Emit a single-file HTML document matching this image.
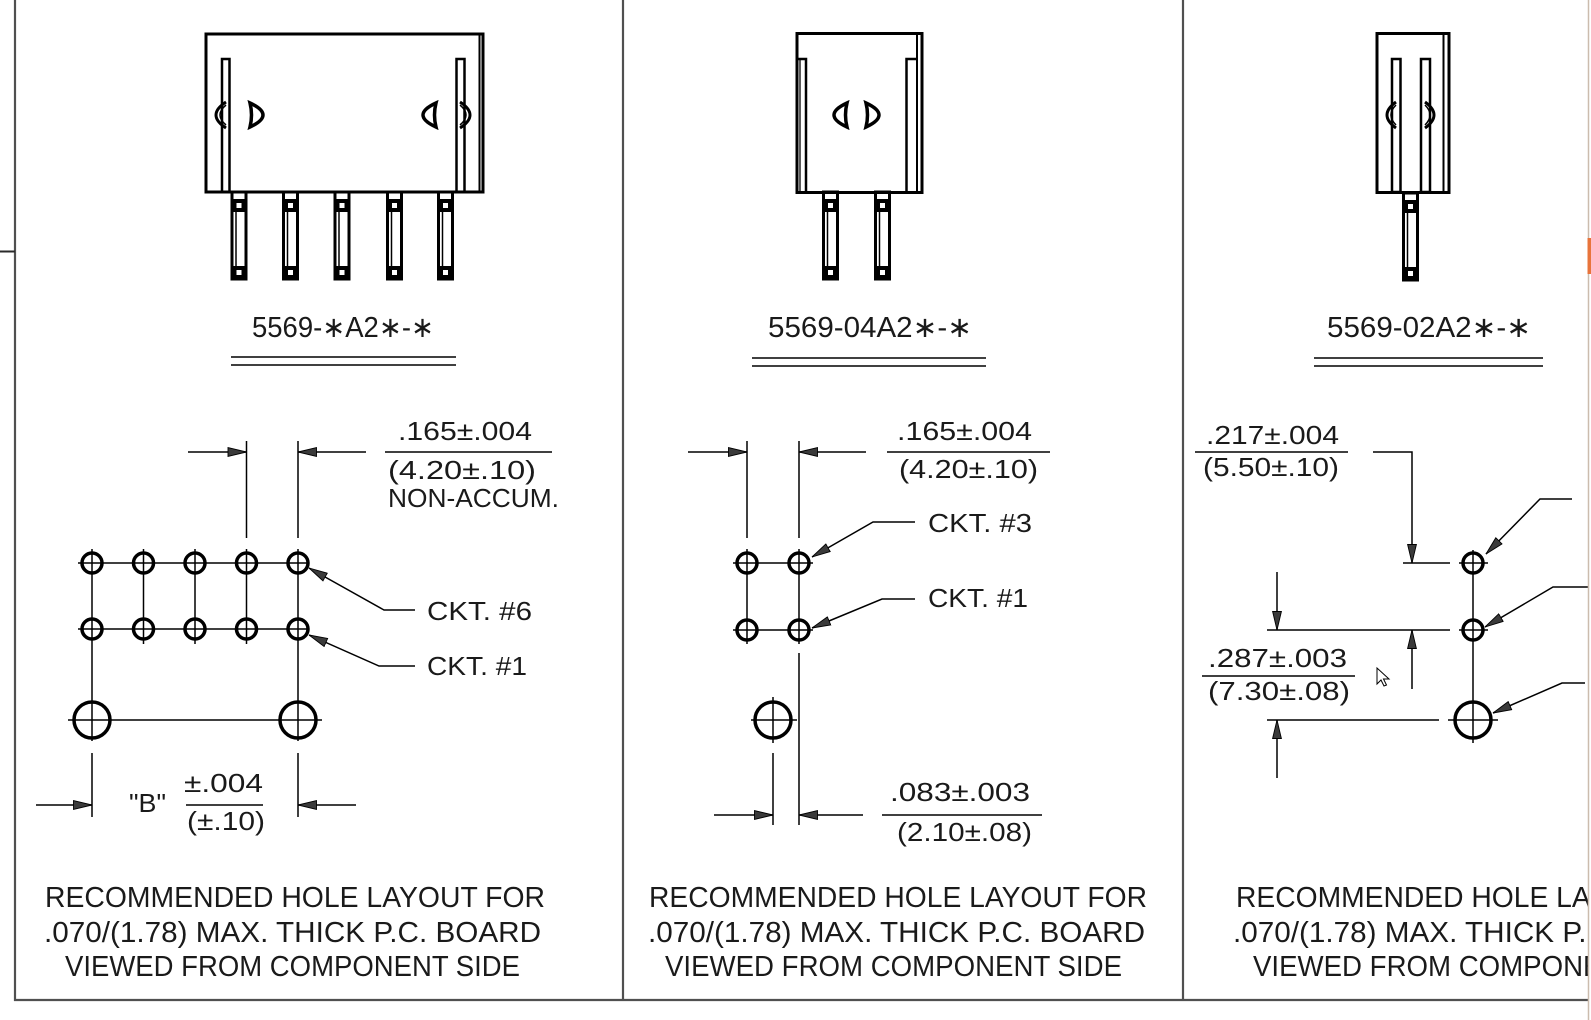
<!DOCTYPE html>
<html><head><meta charset="utf-8"><style>
html,body{margin:0;padding:0;background:#fff;width:1591px;height:1020px;overflow:hidden}
svg{display:block}
text{font-family:"Liberation Sans","DejaVu Sans",sans-serif;fill:#1a1a1a}
</style></head><body>
<svg width="1591" height="1020" viewBox="0 0 1591 1020" xmlns="http://www.w3.org/2000/svg">
<defs>
<marker id="ah" viewBox="0 0 19 10" refX="19" refY="5" markerWidth="19" markerHeight="10" orient="auto" markerUnits="userSpaceOnUse"><path d="M0.5,0.6 L19,5 L0.5,9.4 Z" fill="#3a3a3a" stroke="#000" stroke-width="0.9"/></marker>
<g id="pin">
<rect x="-7" y="192" width="14" height="87" fill="none" stroke="#000" stroke-width="3"/>
<line x1="-3" y1="212" x2="-3" y2="266" stroke="#000" stroke-width="1.5"/>
<rect x="-8" y="199" width="16" height="13" fill="#000"/>
<rect x="-2.5" y="203" width="5" height="5" fill="#fff"/>
<rect x="-8" y="266" width="16" height="14" fill="#000"/>
<rect x="-2.5" y="270" width="5" height="5" fill="#fff"/>
</g>
</defs>

<!-- frame -->
<g stroke="#505050" stroke-width="2.2" fill="none">
<line x1="15" y1="0" x2="15" y2="1001"/>
<line x1="14" y1="1000" x2="1588" y2="1000"/>
<line x1="623" y1="0" x2="623" y2="1000"/>
<line x1="1183" y1="0" x2="1183" y2="1000"/>
</g>
<line x1="0" y1="251.5" x2="15" y2="251.5" stroke="#2a2a2a" stroke-width="2"/>

<!-- ===== Panel 1 connector ===== -->
<g stroke="#000" stroke-width="3" fill="none">
<rect x="206" y="34" width="277" height="158"/>
<line x1="479.5" y1="34" x2="479.5" y2="192" stroke-width="2"/>
<rect x="222" y="59" width="7.5" height="133" stroke-width="2.5"/>
<rect x="456.5" y="59" width="8" height="133" stroke-width="2.5"/>
<path d="M226,102 Q206,115 226,128"/>
<path d="M226,105 Q214,115 226,125" stroke-width="1.5"/>
<path d="M460,102 Q480,115 460,128"/>
<path d="M460,105 Q472,115 460,125" stroke-width="1.5"/>
<path d="M250,103 Q276,115 250,127 Q253,115 250,103 Z" stroke-width="3.5"/>
<path d="M436,103 Q410,115 436,127 Q433,115 436,103 Z" stroke-width="3.5"/>
</g>
<use href="#pin" x="239"/>
<use href="#pin" x="290.5"/>
<use href="#pin" x="342"/>
<use href="#pin" x="394.5"/>
<use href="#pin" x="445.5"/>
<text x="252" y="337" font-size="29" textLength="182" lengthAdjust="spacingAndGlyphs">5569-∗A2∗-∗</text>
<g stroke="#000" stroke-width="1.5">
<line x1="231" y1="357" x2="456" y2="357"/>
<line x1="231" y1="365" x2="456" y2="365"/>
</g>

<!-- ===== Panel 1 hole layout ===== -->
<g stroke="#000" stroke-width="1.5" fill="none">
<line x1="78" y1="563" x2="309" y2="563"/>
<line x1="78" y1="629" x2="309" y2="629"/>
<line x1="68" y1="720" x2="322" y2="720"/>
<line x1="92" y1="549" x2="92" y2="741"/>
<line x1="143.5" y1="549" x2="143.5" y2="644"/>
<line x1="195" y1="549" x2="195" y2="644"/>
<line x1="246.5" y1="441" x2="246.5" y2="538"/>
<line x1="246.5" y1="549" x2="246.5" y2="644"/>
<line x1="298" y1="441" x2="298" y2="538"/>
<line x1="298" y1="549" x2="298" y2="741"/>
<line x1="92" y1="753" x2="92" y2="817"/>
<line x1="298" y1="753" x2="298" y2="817"/>
<line x1="188" y1="452" x2="246.5" y2="452" marker-end="url(#ah)"/>
<line x1="366" y1="452" x2="298" y2="452" marker-end="url(#ah)"/>
<line x1="36" y1="805" x2="92" y2="805" marker-end="url(#ah)"/>
<line x1="356" y1="805" x2="298" y2="805" marker-end="url(#ah)"/>
<line x1="385" y1="452" x2="552" y2="452"/>
<line x1="186" y1="805" x2="263" y2="805"/>
<polyline points="415,610 384,610 309,568" marker-end="url(#ah)"/>
<polyline points="415,666 379,666 309,635" marker-end="url(#ah)"/>
</g>
<g stroke="#000" stroke-width="3.5" fill="none">
<circle cx="92" cy="563" r="10"/><circle cx="143.5" cy="563" r="10"/><circle cx="195" cy="563" r="10"/><circle cx="246.5" cy="563" r="10"/><circle cx="298" cy="563" r="10"/>
<circle cx="92" cy="629" r="10"/><circle cx="143.5" cy="629" r="10"/><circle cx="195" cy="629" r="10"/><circle cx="246.5" cy="629" r="10"/><circle cx="298" cy="629" r="10"/>
<circle cx="92" cy="720" r="18"/><circle cx="298" cy="720" r="18"/>
</g>
<text x="398" y="440" font-size="26" textLength="134" lengthAdjust="spacingAndGlyphs">.165±.004</text>
<text x="388" y="479" font-size="26" textLength="148" lengthAdjust="spacingAndGlyphs">(4.20±.10)</text>
<text x="388" y="507" font-size="26" textLength="171" lengthAdjust="spacingAndGlyphs">NON-ACCUM.</text>
<text x="427" y="620" font-size="26" textLength="105" lengthAdjust="spacingAndGlyphs">CKT. #6</text>
<text x="427" y="675" font-size="26" textLength="100" lengthAdjust="spacingAndGlyphs">CKT. #1</text>
<text x="129" y="812" font-size="26" textLength="37" lengthAdjust="spacingAndGlyphs">"B"</text>
<text x="184" y="792" font-size="26" textLength="79" lengthAdjust="spacingAndGlyphs">±.004</text>
<text x="187" y="830" font-size="26" textLength="78" lengthAdjust="spacingAndGlyphs">(±.10)</text>

<text x="45" y="907" font-size="29" textLength="500" lengthAdjust="spacingAndGlyphs">RECOMMENDED HOLE LAYOUT FOR</text>
<text x="44" y="942" font-size="29" textLength="497" lengthAdjust="spacingAndGlyphs">.070/(1.78) MAX. THICK P.C. BOARD</text>
<text x="65" y="976" font-size="29" textLength="455" lengthAdjust="spacingAndGlyphs">VIEWED FROM COMPONENT SIDE</text>

<!-- ===== Panel 2 connector ===== -->
<g stroke="#000" stroke-width="3" fill="none">
<rect x="797" y="33.5" width="125" height="159"/>
<line x1="917" y1="33.5" x2="917" y2="192.5" stroke-width="2"/>
<polyline points="797,59 806,59 806,192" stroke-width="2.5"/>
<line x1="800" y1="59" x2="800" y2="192" stroke-width="1.3"/>
<polyline points="917,59 906.5,59 906.5,192" stroke-width="2.5"/>
<path d="M847,103 Q821,115 847,127 Q844,115 847,103 Z" stroke-width="3.5"/>
<path d="M866,103 Q892,115 866,127 Q869,115 866,103 Z" stroke-width="3.5"/>
</g>
<use href="#pin" x="830.5"/>
<use href="#pin" x="882.5"/>
<text x="768" y="337" font-size="29" textLength="204" lengthAdjust="spacingAndGlyphs">5569-04A2∗-∗</text>
<g stroke="#000" stroke-width="1.5">
<line x1="752" y1="358" x2="986" y2="358"/>
<line x1="752" y1="366" x2="986" y2="366"/>
</g>

<!-- ===== Panel 2 hole layout ===== -->
<g stroke="#000" stroke-width="1.5" fill="none">
<line x1="747" y1="441" x2="747" y2="538"/>
<line x1="747" y1="549" x2="747" y2="644"/>
<line x1="799" y1="441" x2="799" y2="538"/>
<line x1="799" y1="549" x2="799" y2="644"/>
<line x1="799" y1="653" x2="799" y2="825"/>
<line x1="733" y1="563" x2="813" y2="563"/>
<line x1="733" y1="630" x2="813" y2="630"/>
<line x1="773" y1="697" x2="773" y2="743"/>
<line x1="751" y1="720" x2="797" y2="720"/>
<line x1="773" y1="753" x2="773" y2="825"/>
<line x1="688" y1="452" x2="747" y2="452" marker-end="url(#ah)"/>
<line x1="866" y1="452" x2="799" y2="452" marker-end="url(#ah)"/>
<line x1="887" y1="452" x2="1050" y2="452"/>
<polyline points="915,522 873,522 812,557" marker-end="url(#ah)"/>
<polyline points="915,599 882,599 812,628" marker-end="url(#ah)"/>
<line x1="714" y1="815" x2="773" y2="815" marker-end="url(#ah)"/>
<line x1="863" y1="815" x2="799" y2="815" marker-end="url(#ah)"/>
<line x1="882" y1="815" x2="1042" y2="815"/>
</g>
<g stroke="#000" stroke-width="3.5" fill="none">
<circle cx="747" cy="563" r="10"/><circle cx="799" cy="563" r="10"/>
<circle cx="747" cy="630" r="10"/><circle cx="799" cy="630" r="10"/>
<circle cx="773" cy="720" r="18"/>
</g>
<text x="897" y="440" font-size="26" textLength="135" lengthAdjust="spacingAndGlyphs">.165±.004</text>
<text x="899" y="478" font-size="26" textLength="139" lengthAdjust="spacingAndGlyphs">(4.20±.10)</text>
<text x="928" y="532" font-size="26" textLength="104" lengthAdjust="spacingAndGlyphs">CKT. #3</text>
<text x="928" y="607" font-size="26" textLength="100" lengthAdjust="spacingAndGlyphs">CKT. #1</text>
<text x="890" y="801" font-size="26" textLength="140" lengthAdjust="spacingAndGlyphs">.083±.003</text>
<text x="897" y="841" font-size="26" textLength="135" lengthAdjust="spacingAndGlyphs">(2.10±.08)</text>

<text x="649" y="907" font-size="29" textLength="498" lengthAdjust="spacingAndGlyphs">RECOMMENDED HOLE LAYOUT FOR</text>
<text x="648" y="942" font-size="29" textLength="497" lengthAdjust="spacingAndGlyphs">.070/(1.78) MAX. THICK P.C. BOARD</text>
<text x="665" y="976" font-size="29" textLength="457" lengthAdjust="spacingAndGlyphs">VIEWED FROM COMPONENT SIDE</text>

<!-- ===== Panel 3 connector ===== -->
<g stroke="#000" stroke-width="3" fill="none">
<rect x="1377" y="33.5" width="72" height="159"/>
<line x1="1443.5" y1="33.5" x2="1443.5" y2="192.5" stroke-width="2"/>
<rect x="1392" y="59" width="8.5" height="133" stroke-width="2.5"/>
<rect x="1421" y="59" width="9" height="133" stroke-width="2.5"/>
<path d="M1396,102 Q1378,115 1396,128"/>
<path d="M1396,105 Q1386,115 1396,125" stroke-width="1.5"/>
<path d="M1425,102 Q1443,115 1425,128"/>
<path d="M1425,105 Q1435,115 1425,125" stroke-width="1.5"/>
</g>
<use href="#pin" x="1410.5" y="1"/>
<text x="1327" y="337" font-size="29" textLength="204" lengthAdjust="spacingAndGlyphs">5569-02A2∗-∗</text>
<g stroke="#000" stroke-width="1.5">
<line x1="1314" y1="358" x2="1543" y2="358"/>
<line x1="1314" y1="366" x2="1543" y2="366"/>
</g>

<!-- ===== Panel 3 hole layout ===== -->
<g stroke="#000" stroke-width="1.5" fill="none">
<line x1="1473" y1="550" x2="1473" y2="743"/>
<line x1="1459" y1="563" x2="1488" y2="563"/>
<line x1="1459" y1="630" x2="1488" y2="630"/>
<line x1="1448" y1="720" x2="1498" y2="720"/>
<line x1="1195" y1="452" x2="1348" y2="452"/>
<line x1="1202" y1="676" x2="1355" y2="676"/>
<polyline points="1373,452 1412,452 1412,563" marker-end="url(#ah)"/>
<line x1="1403" y1="563" x2="1450" y2="563"/>
<line x1="1267" y1="630" x2="1450" y2="630"/>
<line x1="1267" y1="720" x2="1439" y2="720"/>
<line x1="1277" y1="572" x2="1277" y2="630" marker-end="url(#ah)"/>
<line x1="1277" y1="778" x2="1277" y2="720" marker-end="url(#ah)"/>
<line x1="1412" y1="689" x2="1412" y2="630" marker-end="url(#ah)"/>
<polyline points="1572,499 1540,499 1486,554" marker-end="url(#ah)"/>
<polyline points="1591,587 1553,587 1485,627" marker-end="url(#ah)"/>
<polyline points="1585,683 1562,683 1493,713" marker-end="url(#ah)"/>
</g>
<g stroke="#000" stroke-width="3.5" fill="none">
<circle cx="1473" cy="563" r="10"/>
<circle cx="1473" cy="630" r="10"/>
<circle cx="1473" cy="720" r="18"/>
</g>
<polygon points="1377,668 1377,684 1381,680 1384,686 1386.5,685 1383.5,679 1389,679" fill="#fff" stroke="#000" stroke-width="1"/>
<text x="1206" y="444" font-size="26" textLength="133" lengthAdjust="spacingAndGlyphs">.217±.004</text>
<text x="1203" y="476" font-size="26" textLength="136" lengthAdjust="spacingAndGlyphs">(5.50±.10)</text>
<text x="1208" y="667" font-size="26" textLength="139" lengthAdjust="spacingAndGlyphs">.287±.003</text>
<text x="1208" y="700" font-size="26" textLength="142" lengthAdjust="spacingAndGlyphs">(7.30±.08)</text>

<text x="1236" y="907" font-size="29" textLength="498" lengthAdjust="spacingAndGlyphs">RECOMMENDED HOLE LAYOUT FOR</text>
<text x="1233" y="942" font-size="29" textLength="497" lengthAdjust="spacingAndGlyphs">.070/(1.78) MAX. THICK P.C. BOARD</text>
<text x="1253" y="976" font-size="29" textLength="457" lengthAdjust="spacingAndGlyphs">VIEWED FROM COMPONENT SIDE</text>

<!-- right edge clip -->
<rect x="1588" y="0" width="3" height="1020" fill="#fff"/>
<line x1="1588.5" y1="0" x2="1588.5" y2="1020" stroke="#cbbcae" stroke-width="1.5"/>
<rect x="1587.5" y="238" width="3.5" height="36" fill="#e8743b"/>
</svg>
</body></html>
